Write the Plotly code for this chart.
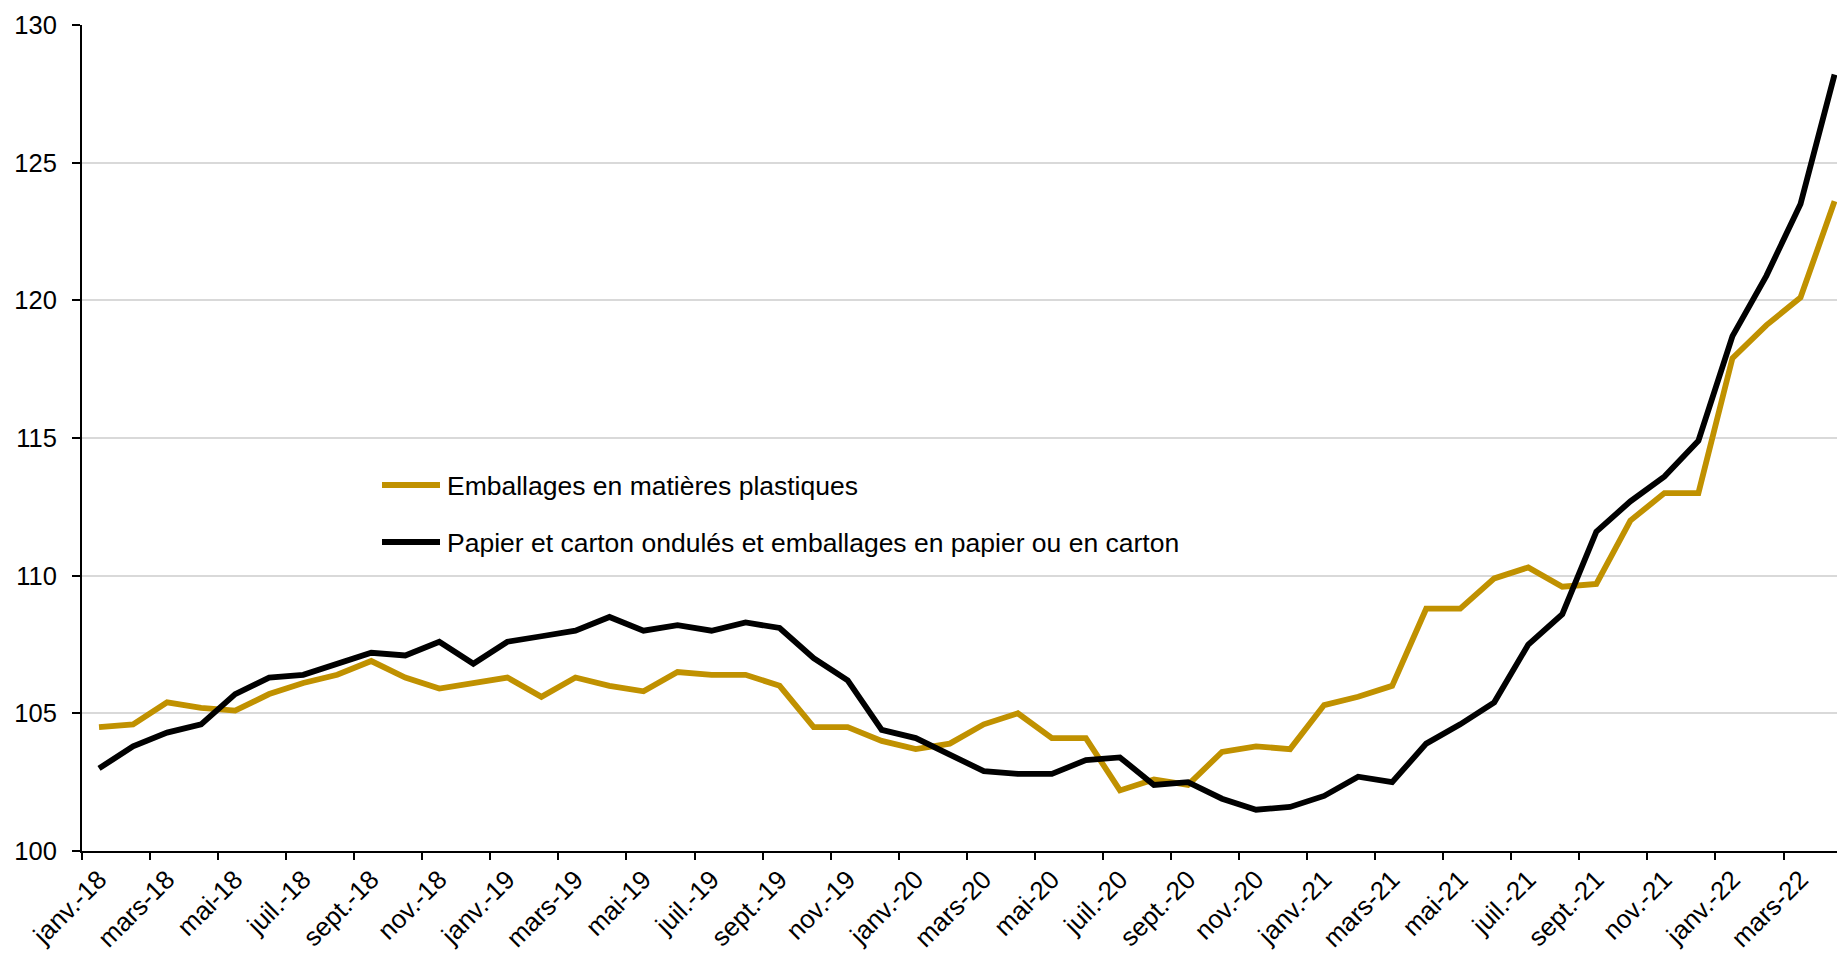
import plotly.graph_objects as go

categories = [
    "janv.-18", "févr.-18", "mars-18", "avr.-18", "mai-18", "juin-18", "juil.-18", "août-18", "sept.-18", "oct.-18", "nov.-18", "déc.-18",
    "janv.-19", "févr.-19", "mars-19", "avr.-19", "mai-19", "juin-19", "juil.-19", "août-19", "sept.-19", "oct.-19", "nov.-19", "déc.-19",
    "janv.-20", "févr.-20", "mars-20", "avr.-20", "mai-20", "juin-20", "juil.-20", "août-20", "sept.-20", "oct.-20", "nov.-20", "déc.-20",
    "janv.-21", "févr.-21", "mars-21", "avr.-21", "mai-21", "juin-21", "juil.-21", "août-21", "sept.-21", "oct.-21", "nov.-21", "déc.-21",
    "janv.-22", "févr.-22", "mars-22", "avr.-22",
]

plastiques = [104.5, 104.6, 105.4, 105.2, 105.1, 105.7, 106.1, 106.4, 106.9, 106.3, 105.9, 106.1,
              106.3, 105.6, 106.3, 106.0, 105.8, 106.5, 106.4, 106.4, 106.0, 104.5, 104.5, 104.0,
              103.7, 103.9, 104.6, 105.0, 104.1, 104.1, 102.2, 102.6, 102.4, 103.6, 103.8, 103.7,
              105.3, 105.6, 106.0, 108.8, 108.8, 109.9, 110.3, 109.6, 109.7, 112.0, 113.0, 113.0,
              117.9, 119.1, 120.1, 123.6]

papier = [103.0, 103.8, 104.3, 104.6, 105.7, 106.3, 106.4, 106.8, 107.2, 107.1, 107.6, 106.8,
          107.6, 107.8, 108.0, 108.5, 108.0, 108.2, 108.0, 108.3, 108.1, 107.0, 106.2, 104.4,
          104.1, 103.5, 102.9, 102.8, 102.8, 103.3, 103.4, 102.4, 102.5, 101.9, 101.5, 101.6,
          102.0, 102.7, 102.5, 103.9, 104.6, 105.4, 107.5, 108.6, 111.6, 112.7, 113.6, 114.9,
          118.7, 120.9, 123.5, 128.2]

series_names = ["Emballages en matières plastiques",
                "Papier et carton ondulés et emballages en papier ou en carton"]
series_colors = ["#C09100", "#000000"]

W, H = 1837, 953
ML, MR, MT, MB = 82, 0, 25, 102
FONT = "Liberation Sans, Arial, sans-serif"
LW = 5.8

x = list(range(len(categories)))

fig = go.Figure()
for name, vals, col in zip(series_names, [plastiques, papier], series_colors):
    fig.add_trace(go.Scatter(x=x, y=vals, mode="lines", name=name,
                             line=dict(color=col, width=LW), showlegend=False))

# manual legend
pw, ph = W - ML - MR, H - MT - MB
def px(xp):
    return (xp - ML) / pw
def py(yp):
    return (H - MB - yp) / ph

for i, (name, col) in enumerate(zip(series_names, series_colors)):
    yy = 485 + i * 57
    fig.add_shape(type="line", xref="paper", yref="paper",
                  x0=px(382), x1=px(440), y0=py(yy), y1=py(yy),
                  line=dict(color=col, width=LW))
    fig.add_annotation(xref="paper", yref="paper", x=px(445), y=py(yy + 1),
                       text=name, showarrow=False, xanchor="left", yanchor="middle",
                       font=dict(family=FONT, size=26.5, color="#000"))

fig.update_layout(
    width=W, height=H,
    margin=dict(l=ML, r=MR, t=MT, b=MB),
    plot_bgcolor="white", paper_bgcolor="white",
    font=dict(family=FONT, size=25, color="#000"),
    showlegend=False,
)
fig.update_xaxes(
    range=[-0.5, -0.5 + pw / 34.03],
    tickmode="array", tickvals=x[::2], ticktext=categories[::2],
    tickangle=-45, ticks="", showgrid=False, zeroline=False,
    showline=True, linecolor="#000", linewidth=2,
    ticklabelstandoff=1, automargin=False,
    tickfont=dict(family=FONT, size=26, color="#000"),
    minor=dict(tickmode="linear", tick0=-0.5, dtick=2, ticks="outside",
               ticklen=7, tickwidth=2, tickcolor="#000", showgrid=False),
)
fig.update_yaxes(
    range=[100, 130], tickmode="linear", tick0=100, dtick=5,
    ticks="outside", ticklen=8, tickwidth=2, tickcolor="#000",
    showline=True, linecolor="#000", linewidth=2,
    showgrid=True, gridcolor="#d9d9d9", gridwidth=1.5, zeroline=False,
    ticklabelstandoff=10, automargin=False,
    tickfont=dict(family=FONT, size=25.5, color="#000"),
)

fig.write_html("out.html", config={"displayModeBar": False},
               post_script="document.body.style.margin='0';")
